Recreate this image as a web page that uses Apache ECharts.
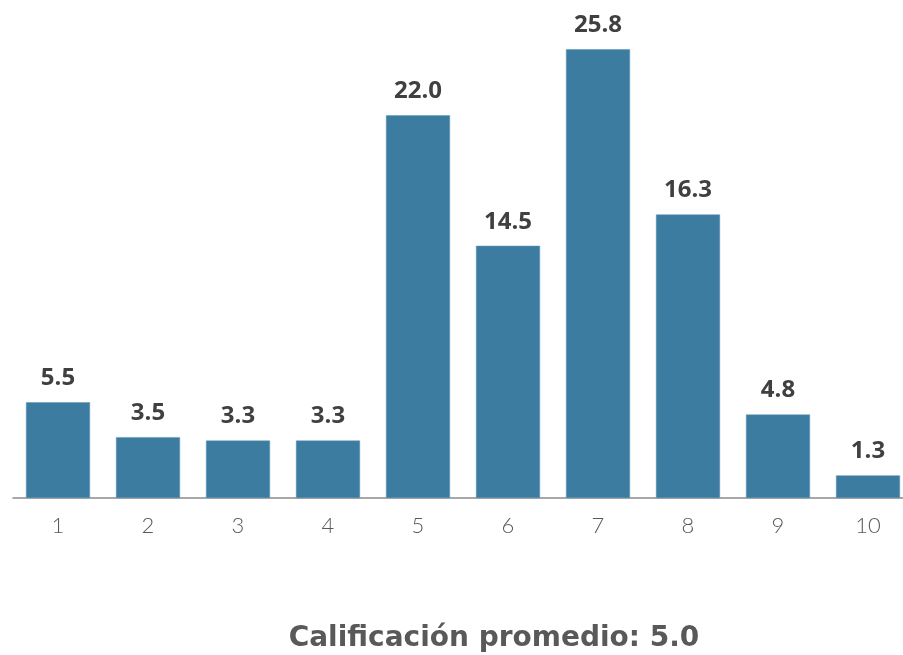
<!DOCTYPE html>
<html><head><meta charset="utf-8">
<script src="https://cdn.jsdelivr.net/npm/echarts@6/dist/echarts.min.js"></script>
<style>html,body{margin:0;padding:0;background:#fff;overflow:hidden}#c{width:913px;height:655px}</style>
</head><body><div id="c"></div>
<script>
const categories = ['1','2','3','4','5','6','7','8','9','10'];
const values = [5.5, 3.5, 3.3, 3.3, 22.0, 14.5, 25.8, 16.3, 4.8, 1.3];
const titleText = 'Calificación promedio: 5.0';

const chart = echarts.init(document.getElementById('c'));
chart.setOption({
  animation: false,
  title: {
    text: titleText, left: 489, top: 620, textAlign: 'center',
    textStyle: {fontFamily: 'DejaVu Sans', fontWeight: 'bold', fontSize: 28, color: '#595959'}
  },
  grid: {left: 13, top: 11, right: 0, bottom: 157, containLabel: false},
  xAxis: {
    type: 'category', data: categories,
    axisLine: {lineStyle: {color: '#8c8c8c', width: 1.5}},
    axisTick: {length: 6, lineStyle: {color: '#8c8c8c', width: 1.5}},
    axisLabel: {color: '#595959', fontSize: 22, margin: 17, fontFamily: 'Lato', fontWeight: 300}
  },
  yAxis: {type: 'value', min: 0, max: 28, show: false, splitLine: {show: false}},
  series: [{
    type: 'bar', data: values, barWidth: 64,
    itemStyle: {color: '#3b7ca0', borderColor: '#5f95b6', borderWidth: 0.5},
    label: {
      show: true, position: 'top', distance: 12,
      formatter: p => p.value.toFixed(1),
      fontFamily: 'Open Sans', fontWeight: 'bold', fontSize: 24, color: '#404040'
    }
  }]
});
</script></body></html>
